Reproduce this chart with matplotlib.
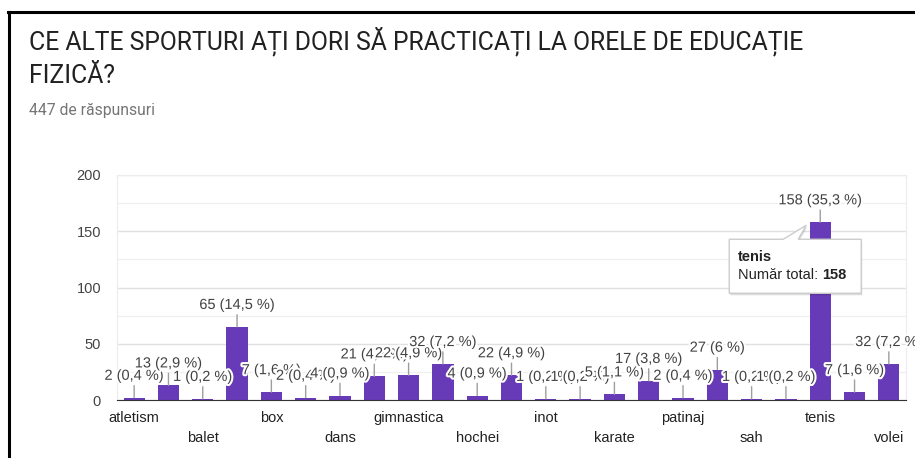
import matplotlib
matplotlib.use("Agg")
import matplotlib.pyplot as plt
import matplotlib.patheffects as pe
import matplotlib.transforms as mtransforms
from matplotlib.patches import Polygon
from matplotlib.lines import Line2D

# date
categorii = ["atletism", "badminton", "balet", "baschet", "box", "ciclism",
             "dans", "fotbal", "gimnastica", "handbal", "hochei",
             "hochei pe gheata", "inot", "judo", "karate", "lupte",
             "patinaj", "ping-pong", "sah", "schi", "tenis",
             "tenis de masa", "volei"]
voturi = [2, 13, 1, 65, 7, 2, 4, 21, 22, 32, 4, 22, 1, 1, 5, 17, 2, 27,
          1, 1, 158, 7, 32]
procente = ["0,4", "2,9", "0,2", "14,5", "1,6", "0,4", "0,9", "4,7", "4,9",
            "7,2", "0,9", "4,9", "0,2", "0,2", "1,1", "3,8", "0,4", "6",
            "0,2", "0,2", "35,3", "1,6", "7,2"]
y_ticks = [0, 50, 100, 150, 200]

titlu_1 = "CE ALTE SPORTURI AȚI DORI SĂ PRACTICAȚI LA ORELE DE EDUCAȚIE"
titlu_2 = "FIZICĂ?"
subtitlu = "447 de răspunsuri"
tooltip_cat = "tenis"

MOV = "#673ab7"
W, H = 915, 458

plt.rcParams["font.family"] = ["Liberation Sans", "DejaVu Sans"]

fig = plt.figure(figsize=(W / 100, H / 100), dpi=100)
ax = fig.add_axes([117 / W, 1 - 400 / H, 789 / W, 225 / H])

x = list(range(len(categorii)))
ax.bar(x, voturi, width=0.62, color=MOV, zorder=2)

ax.set_xlim(-0.5, len(categorii) - 0.5)
ax.set_ylim(0, 200)
ax.set_yticks(y_ticks)
ax.set_yticks(range(25, 200, 50), minor=True)
ax.tick_params(axis="y", which="both", length=0, pad=11.5, labelsize=10.5,
               labelcolor="#444444")
ax.grid(axis="y", which="major", color="#e0e0e0", lw=1, zorder=0)
ax.grid(axis="y", which="minor", color="#f0f0f0", lw=1, zorder=0)

# doar fiecare a doua eticheta, pe doua randuri
ax.set_xticks(x[::2])
ax.set_xticklabels(categorii[::2])
ax.tick_params(axis="x", length=0, labelsize=10.5, labelcolor="#222222")
for k, tick in enumerate(ax.xaxis.get_major_ticks()):
    tick.set_pad(8 if k % 2 == 0 else 22.5)

for s in ["left", "right", "top"]:
    ax.spines[s].set_color("#ececec")
ax.spines["bottom"].set_color("#333333")
ax.spines["bottom"].set_zorder(3)

# etichete de valoare cu linie de legatura
halo = [pe.withStroke(linewidth=3, foreground="white")]
for i, (v, p) in enumerate(zip(voturi, procente)):
    ax.annotate(f"{v} ({p} %)", xy=(i, v), xytext=(0, 15.8),
                textcoords="offset points", ha="center", va="center",
                fontsize=10.5, color="#424242", path_effects=halo,
                annotation_clip=False, zorder=4 + i * 0.01,
                arrowprops=dict(arrowstyle="-", color="#9e9e9e", lw=1,
                                shrinkA=0, shrinkB=0, relpos=(0.5, 0.1)))

# tooltip pentru tenis (coordonate in pixeli fata de varful barei)
ti = categorii.index(tooltip_cat)
off = mtransforms.Affine2D().scale(1, -1) + \
    mtransforms.ScaledTranslation(ti, voturi[ti], ax.transData)
forma = [(-91, 17), (-37, 17), (-14, 3), (-22, 17), (41, 17), (41, 71),
         (-91, 71)]
umbra = Polygon([(a + 1, b + 2) for a, b in forma], closed=True,
                transform=off, facecolor="#00000022", edgecolor="none",
                zorder=10, clip_on=False)
cutie = Polygon(forma, closed=True, transform=off, facecolor="white",
                edgecolor="#cccccc", lw=1, zorder=11, clip_on=False)
ax.add_patch(umbra)
ax.add_patch(cutie)
ax.text(-82, 35, tooltip_cat, transform=off, fontsize=10.5,
        fontweight="bold", color="#222222", va="center", zorder=12)
t1 = ax.text(-82, 53, "Număr total: ", transform=off, fontsize=10.5,
             color="#222222", va="center", zorder=12)
ax.annotate(str(voturi[ti]), xy=(1, 0.5), xycoords=t1, va="center",
            ha="left", fontsize=10.5, fontweight="bold", color="#222222",
            zorder=12)

# titlu
fig.text(29 / W, 1 - 49 / H, titlu_1, fontsize=17.8, family="Roboto",
         color="#212121", va="baseline")
fig.text(29 / W, 1 - 83 / H, titlu_2, fontsize=17.8, family="Roboto",
         color="#212121", va="baseline")
fig.text(29 / W, 1 - 115 / H, subtitlu, fontsize=11.3, family="Roboto",
         color="#757575", va="baseline")

# chenarul negru din captura
fig.add_artist(Line2D([8 / W, 1], [1 - 12 / H, 1 - 12 / H], color="black",
                      lw=2.2, transform=fig.transFigure))
fig.add_artist(Line2D([9 / W, 9 / W], [0, 1 - 12 / H], color="black",
                      lw=2.2, transform=fig.transFigure))

fig.savefig("out.png", dpi=100)
